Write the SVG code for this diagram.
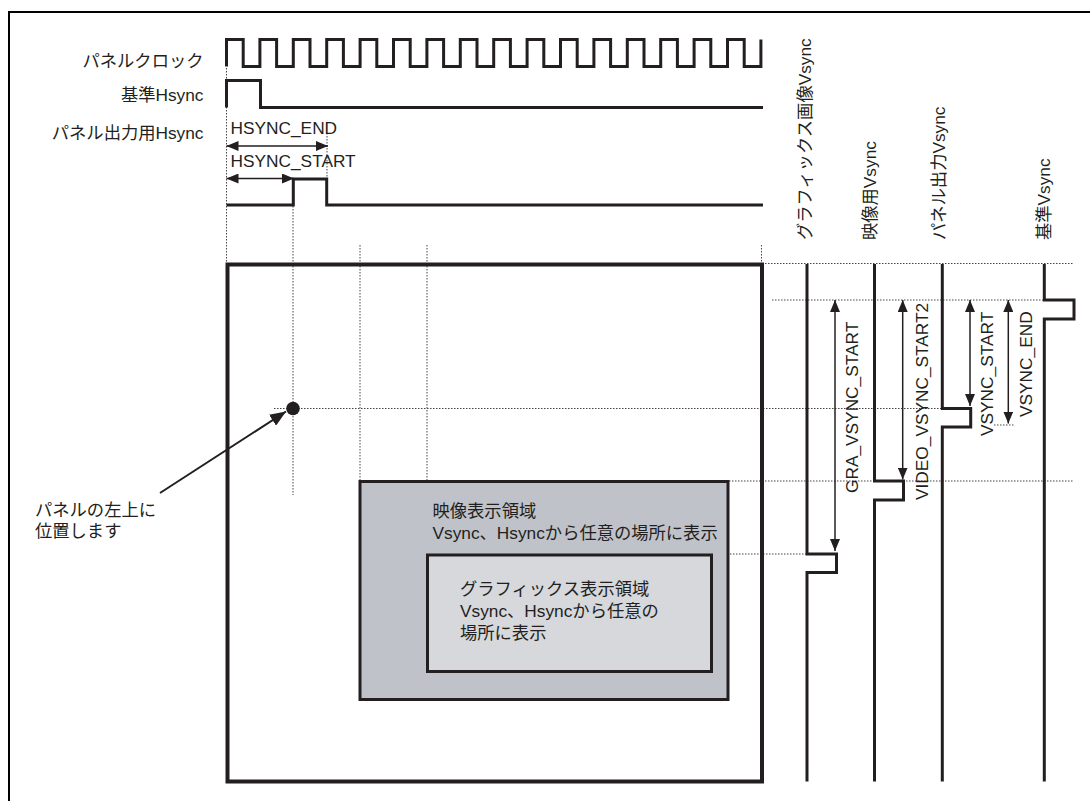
<svg xmlns="http://www.w3.org/2000/svg" width="1090" height="801" viewBox="0 0 1090 801">
<style>
text{font-family:"Liberation Sans","Noto Sans CJK JP",sans-serif;fill:#231f20;font-size:17.3px}
.sig{fill:none;stroke:#231f20;stroke-width:3;stroke-linejoin:miter}
.dot{fill:none;stroke:#444;stroke-width:1;stroke-dasharray:1.5 1.5}
.arr{fill:none;stroke:#231f20;stroke-width:1.5}
.end{text-anchor:end}
</style>
<defs>
<marker id="ah" viewBox="0 0 12 10" refX="12" refY="5" markerWidth="12" markerHeight="10" markerUnits="userSpaceOnUse" orient="auto-start-reverse">
<path d="M0,0 L12,5 L0,10 z" fill="#231f20"/>
</marker>
<marker id="ahb" viewBox="0 0 16 13" refX="16" refY="6.5" markerWidth="16" markerHeight="13" markerUnits="userSpaceOnUse" orient="auto">
<path d="M0,0 L16,6.5 L0,13 z" fill="#231f20"/>
</marker>
</defs>
<rect width="1090" height="801" fill="#fff"/>
<path d="M9,801 V12 H1090" fill="none" stroke="#000" stroke-width="2"/>

<g id="guides">
<path class="dot" d="M226.5,68 V263"/>
<path class="dot" d="M293,206 V495"/>
<path class="dot" d="M327,133 V178"/>
<path class="dot" d="M360,245 V480"/>
<path class="dot" d="M427,245 V553"/>
<path class="dot" d="M761.5,245 V263"/>
<path class="dot" d="M762,263.5 H1073"/>
<path class="dot" d="M772,300 H1044"/>
<path class="dot" d="M274,408.5 H942"/>
<path class="dot" d="M994,425 H1015"/>
<path class="dot" d="M726,481 H1073"/>
<path class="dot" d="M712,554 H806"/>
</g>

<g id="signal-labels">
<text class="end" x="203.5" y="66.5">パネルクロック</text>
<text class="end" x="203.5" y="100.5">基準Hsync</text>
<text class="end" x="203.5" y="139">パネル出力用Hsync</text>
</g>

<g id="panel-clock"><path class="sig" d="M226.5,66.5 V39.5 H243.2 V66.5 H259.9 V39.5 H276.6 V66.5 H293.3 V39.5 H310 V66.5 H326.7 V39.5 H343.4 V66.5 H360.1 V39.5 H376.8 V66.5 H393.5 V39.5 H410.2 V66.5 H426.9 V39.5 H443.6 V66.5 H460.3 V39.5 H477 V66.5 H493.7 V39.5 H510.4 V66.5 H527.1 V39.5 H543.8 V66.5 H560.5 V39.5 H577.2 V66.5 H593.9 V39.5 H610.6 V66.5 H627.3 V39.5 H644 V66.5 H660.7 V39.5 H677.4 V66.5 H694.1 V39.5 H710.8 V66.5 H727.5 V39.5 H744.2 V66.5 H760.9 V39.5"/></g>
<g id="base-hsync"><path class="sig" d="M226.5,107.5 V80.5 H260.5 V107.5 H763"/></g>
<g id="panel-hsync"><path class="sig" d="M226.5,205 H293.3 V179 H326.7 V205 H763"/></g>

<g id="hsync-params">
<text x="230.5" y="133.5">HSYNC_END</text>
<text x="230.5" y="167">HSYNC_START</text>
</g>

<g id="panel-area"><rect x="227.5" y="264.5" width="534.5" height="517" fill="none" stroke="#231f20" stroke-width="4"/></g>

<g id="video-area">
<rect x="360" y="481.5" width="368" height="218" fill="#bfc3c9" stroke="#231f20" stroke-width="3"/>
<text x="432.5" y="516.5">映像表示領域</text>
<text x="432.5" y="538.5">Vsync、Hsyncから任意の場所に表示</text>
</g>

<g id="graphics-area">
<rect x="427.5" y="555" width="284" height="116.5" fill="#d6d8dc" stroke="#231f20" stroke-width="3"/>
<text x="460" y="595">グラフィックス表示領域</text>
<text x="460" y="616.5">Vsync、Hsyncから任意の</text>
<text x="460" y="638.5">場所に表示</text>
</g>

<g id="origin-point">
<circle cx="293" cy="408.5" r="6.8" fill="#231f20"/>
<text x="35" y="516">パネルの左上に</text>
<text x="35" y="537">位置します</text>
</g>

<g id="gra-vsync"><path class="sig" d="M807,264 V554 H836.5 V572.5 H807 V781.5"/>
<text transform="translate(811,240) rotate(-90)">グラフィックス画像Vsync</text></g>
<g id="video-vsync"><path class="sig" d="M874.5,264 V481 H903.5 V500 H874.5 V781.5"/>
<text transform="translate(876,240) rotate(-90)">映像用Vsync</text></g>
<g id="panel-vsync"><path class="sig" d="M942.3,264 V408.5 H970.7 V427 H942.3 V781.5"/>
<text transform="translate(944.5,240) rotate(-90)">パネル出力Vsync</text></g>
<g id="base-vsync"><path class="sig" d="M1044.3,264 V300 H1074 V319 H1044.3 V781.5"/>
<text transform="translate(1049.5,240) rotate(-90)">基準Vsync</text></g>

<g id="vsync-params">
<text transform="translate(858,493) rotate(-90)">GRA_VSYNC_START</text>
<text transform="translate(927.5,500) rotate(-90)">VIDEO_VSYNC_START2</text>
<text transform="translate(992.5,436) rotate(-90)">VSYNC_START</text>
<text transform="translate(1032,417) rotate(-90)">VSYNC_END</text>
</g>

<g id="connectors">
<line class="arr" x1="226.5" y1="146" x2="328" y2="146" marker-start="url(#ah)" marker-end="url(#ah)"/>
<line class="arr" x1="226.5" y1="178.5" x2="294" y2="178.5" marker-start="url(#ah)" marker-end="url(#ah)"/>
<line class="arr" x1="835" y1="300" x2="835" y2="551" marker-start="url(#ah)" marker-end="url(#ah)"/>
<line class="arr" x1="902.7" y1="300" x2="902.7" y2="479.5" marker-start="url(#ah)" marker-end="url(#ah)"/>
<line class="arr" x1="970" y1="300" x2="970" y2="406" marker-start="url(#ah)" marker-end="url(#ah)"/>
<line class="arr" x1="1008.3" y1="300" x2="1008.3" y2="423.5" marker-start="url(#ah)" marker-end="url(#ah)"/>
<line x1="160" y1="493" x2="286" y2="411.5" stroke="#231f20" stroke-width="2" marker-end="url(#ahb)"/>
</g>
</svg>
